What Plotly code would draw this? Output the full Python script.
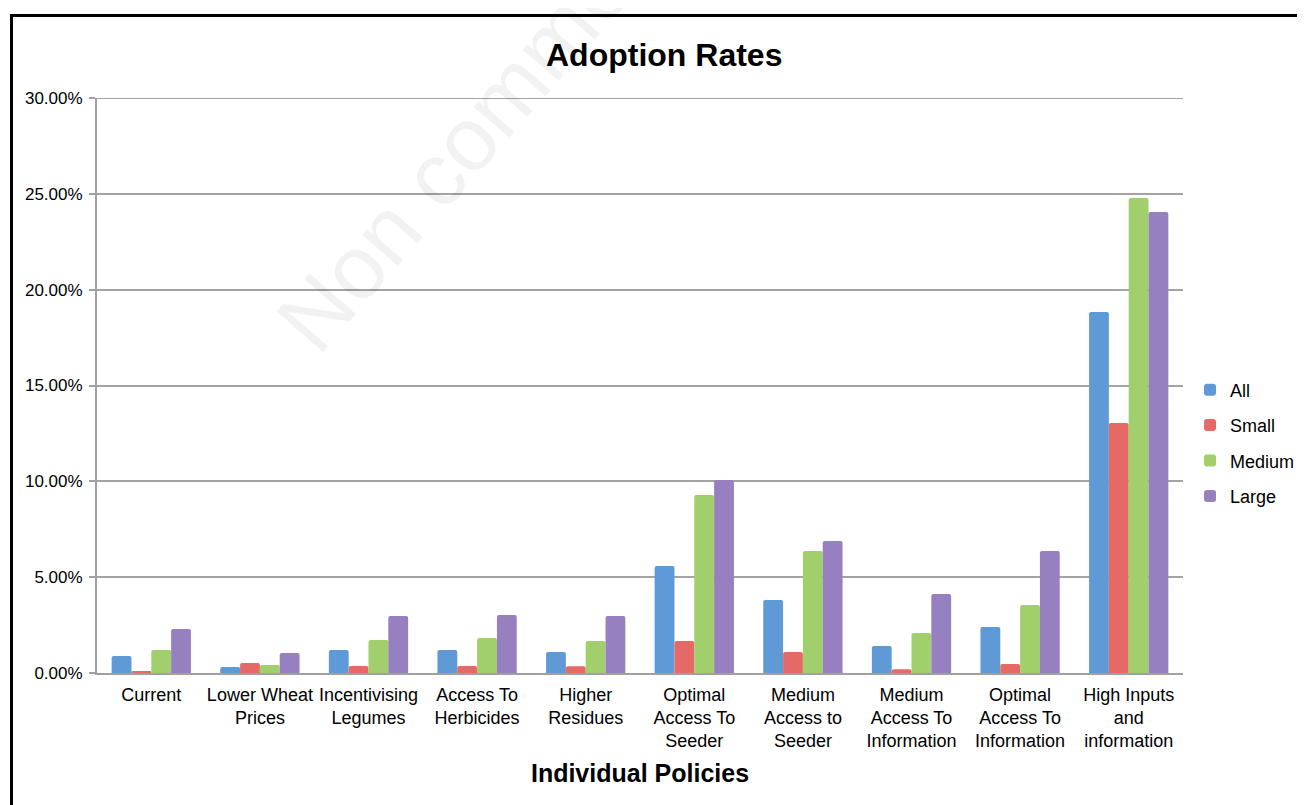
import plotly.graph_objects as go

categories = [
    "Current", "Lower Wheat<br>Prices", "Incentivising<br>Legumes", "Access To<br>Herbicides",
    "Higher<br>Residues", "Optimal<br>Access To<br>Seeder", "Medium<br>Access to<br>Seeder",
    "Medium<br>Access To<br>Information", "Optimal<br>Access To<br>Information",
    "High Inputs<br>and<br>information",
]
series_names = ["All", "Small", "Medium", "Large"]
all_vals = [0.0089, 0.0031, 0.0120, 0.0120, 0.0110, 0.0558, 0.0381, 0.0141, 0.0240, 0.1883]
small_vals = [0.0008, 0.0052, 0.0037, 0.0037, 0.0035, 0.0167, 0.0110, 0.0020, 0.0047, 0.1304]
medium_vals = [0.0120, 0.0042, 0.0172, 0.0183, 0.0167, 0.0929, 0.0636, 0.0209, 0.0355, 0.2478]
large_vals = [0.0230, 0.0104, 0.0297, 0.0303, 0.0297, 0.1007, 0.0689, 0.0412, 0.0636, 0.2405]
colors = ["#5f9ad6", "#e56a65", "#a0cf6b", "#9680bf"]
y_ticks = [0, 0.05, 0.10, 0.15, 0.20, 0.25, 0.30]
y_max = 0.30

fig = go.Figure()
for i, (name, vals) in enumerate(zip(series_names, [all_vals, small_vals, medium_vals, large_vals])):
    fig.add_trace(go.Bar(
        x=categories, y=vals, name=name, legendgroup=name,
        marker=dict(color=colors[i], line=dict(width=0), cornerradius=2),
    ))

OFF = 8  # page body margin
W, H = 1305 - OFF, 805 - OFF
# target pixel positions in the window
PL, PR, PT, PB = 97, 1183, 98, 673
L, T = PL - OFF, PT - OFF
R, B = W - (PR - OFF), H - (PB - OFF)
pw, ph = PR - PL, PB - PT

def px(x):
    return (x - PL) / pw

def py(y):
    return (PB - y) / ph

fig.update_layout(
    width=W, height=H,
    margin=dict(l=L, r=R, t=T, b=B, autoexpand=False),
    paper_bgcolor="white", plot_bgcolor="white",
    font=dict(family="Arial, Liberation Sans, sans-serif", color="#000"),
    barmode="group", bargap=0.27, bargroupgap=0,
    showlegend=True,
    legend=dict(x=px(1190), xanchor="left", y=py(443), yanchor="middle",
                font=dict(size=18, color="#000"), tracegroupgap=9,
                itemwidth=30, bgcolor="rgba(0,0,0,0)"),
    xaxis=dict(showline=True, linecolor="#a0a0a0", linewidth=2, ticks="",
               tickfont=dict(size=18, color="#000"), showgrid=False, ticklabelstandoff=4,
               title=dict(text="<b>Individual Policies</b>", font=dict(size=25, color="#000"), standoff=14)),
    yaxis=dict(range=[0, y_max], tickvals=y_ticks, tickformat=".2%",
               showgrid=True, gridcolor="#a3a3a3", gridwidth=2,
               showline=True, linecolor="#a0a0a0", linewidth=2,
               ticks="outside", ticklen=6, tickcolor="#a0a0a0", tickwidth=2,
               ticklabelstandoff=3,
               tickfont=dict(size=17, color="#000"), zeroline=False),
    annotations=[
        dict(text="<b>Adoption Rates</b>", x=px(664), y=py(55), xref="paper", yref="paper",
             xanchor="center", yanchor="middle", showarrow=False,
             font=dict(size=32, color="#000")),
        dict(text="Non commercial", x=px(508), y=py(92), xref="paper", yref="paper",
             xanchor="center", yanchor="middle", showarrow=False, textangle=-49,
             font=dict(size=90, color="rgba(0,0,0,0.05)")),
    ],
    shapes=[
        dict(type="line", xref="paper", yref="y", x0=0, x1=1, y0=y_max, y1=y_max,
             line=dict(color="#a3a3a3", width=2), layer="below"),
        dict(type="rect", xref="paper", yref="paper",
             x0=px(11.5), y0=py(815), x1=px(1320), y1=py(15.5),
             line=dict(color="black", width=3), fillcolor="rgba(0,0,0,0)", layer="above"),
    ],
)

fig.write_html("out.html")
